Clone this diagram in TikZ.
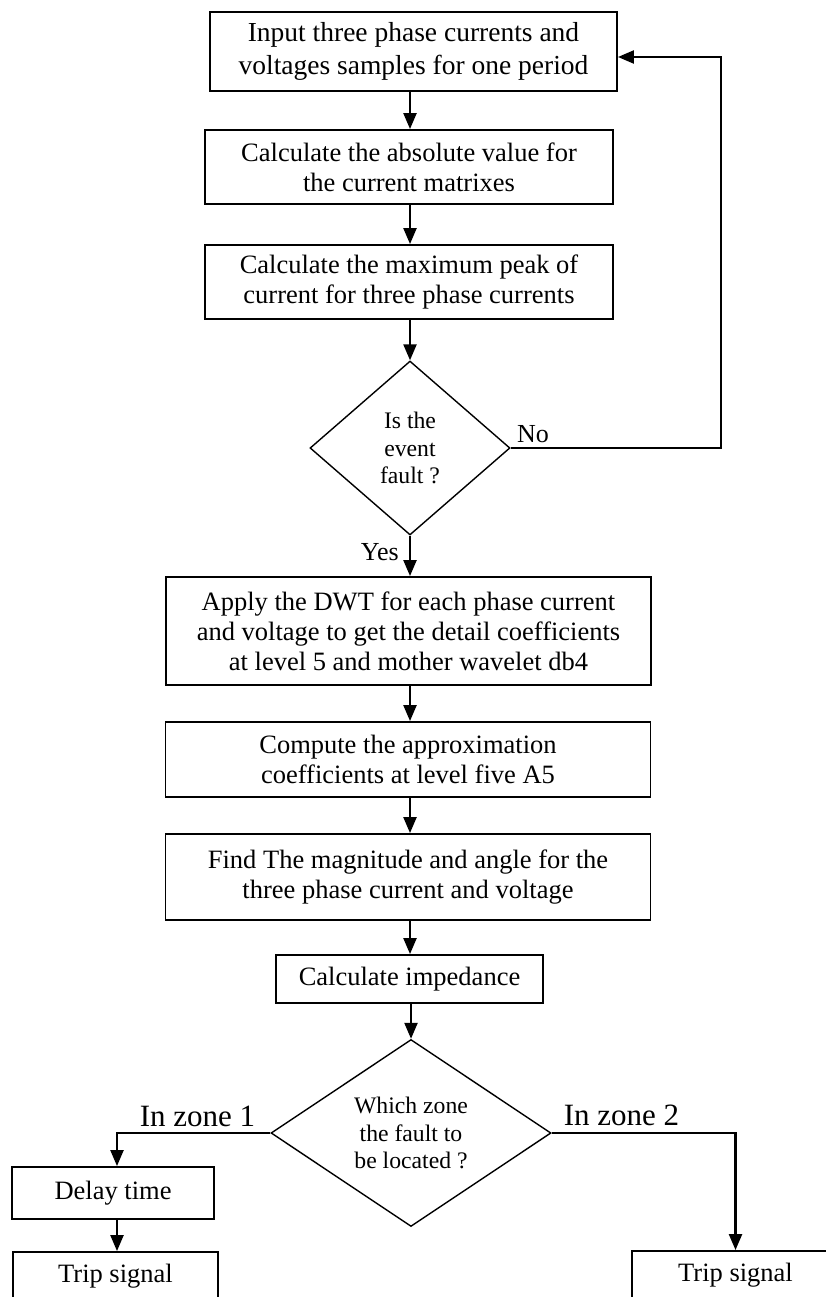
\documentclass[tikz,border=0pt]{standalone}
\usepackage{fontspec}
\setmainfont{Liberation Serif}
\usetikzlibrary{shapes.geometric,arrows.meta}
\begin{document}
\begin{tikzpicture}[x=1pt,y=-1pt,
  box/.style={draw, line width=1.9pt, align=center, inner sep=0pt, font=\fontsize{26.5}{30}\selectfont},
  dec/.style={draw, diamond, line width=1.4pt, align=center, inner sep=0pt, font=\fontsize{23.7}{27.5}\selectfont},
  arr/.style={line width=2.3pt, -{Triangle[length=16pt,width=13pt]}},
  lbl/.style={font=\fontsize{26}{30}\selectfont, inner sep=0pt},
  zlbl/.style={font=\fontsize{31}{34}\selectfont, inner sep=0pt}]
\useasboundingbox (0,0) rectangle (826,1297);
\node[box, minimum width=407pt, minimum height=79pt, font=\fontsize{27.5}{33}\selectfont] (b1) at (413.5,51.5) {Input three phase currents and\\voltages samples for one period};
\node[box, minimum width=408pt, minimum height=74pt] (b2) at (409,167) {Calculate the absolute value for\\the current matrixes};
\node[box, minimum width=408pt, minimum height=74pt] (b3) at (409,282) {Calculate the maximum peak of\\current for three phase currents};
\node[dec, minimum width=200pt, minimum height=174pt, aspect=1.15] (d1) at (410,448) {Is the\\event\\fault ?};
\node[box, minimum width=485pt, minimum height=108pt] (b4) at (408.5,631) {Apply the DWT for each phase current\\and voltage to get the detail coefficients\\at level 5 and mother wavelet db4};
\node[box, minimum width=485pt, minimum height=75pt] (b5) at (408,759.5) {Compute the approximation\\coefficients at level five A5};
\node[box, minimum width=485pt, minimum height=86pt] (b6) at (408,877) {Find The magnitude and angle for the\\three phase current and voltage};
\node[box, minimum width=267pt, minimum height=48pt] (b7) at (409.5,979) {Calculate impedance};
\node[dec, minimum width=280pt, minimum height=187pt, aspect=1.5] (d2) at (411,1133) {Which zone\\the fault to\\be located ?};
\node[box, minimum width=202pt, minimum height=52pt] (dl) at (113,1193) {Delay time};
\node[box, minimum width=205pt, minimum height=48pt] (t1) at (115.5,1276) {Trip signal};
\node[box, minimum width=207pt, minimum height=48pt] (t2) at (735.5,1275) {Trip signal};
\coordinate (c) at (410,0);
\coordinate (c1) at (117,0);
\coordinate (fb) at (721,57);
\draw[arr] (b1.south -| c) -- (b2.north -| c);
\draw[arr] (b2.south -| c) -- (b3.north -| c);
\draw[arr] (b3.south -| d1.north) -- (d1.north);
\draw[arr] (d1.south) -- (b4.north -| d1.south);
\draw[arr] (d1.east) -| (fb) -- (b1.east |- fb);
\draw[arr] (b4.south -| c) -- (b5.north -| c);
\draw[arr] (b5.south -| c) -- (b6.north -| c);
\draw[arr] (b6.south -| c) -- (b7.north -| c);
\draw[arr] (b7.south -| d2.north) -- (d2.north);
\draw[arr] (d2.west) -| (dl.north -| c1);
\draw[arr] (d2.east) -| (t2.north);
\draw[arr] (dl.south -| c1) -- (t1.north -| c1);
\node[lbl, anchor=base west] (no) at (517,442) {No};
\node[lbl, anchor=base east] (yes) at (399,560) {Yes};
\node[zlbl, anchor=base] (z1) at (197.5,1126) {In zone 1};
\node[zlbl, anchor=base] (z2) at (621.5,1125) {In zone 2};
\end{tikzpicture}
\end{document}
